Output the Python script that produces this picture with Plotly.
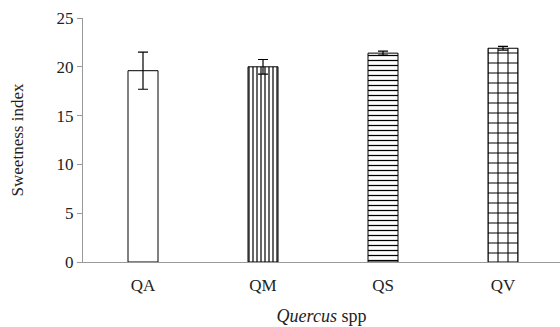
import plotly.graph_objects as go

categories = ["QA", "QM", "QS", "QV"]
values = [19.6, 20.0, 21.4, 21.9]
errors = [1.9, 0.75, 0.2, 0.2]
patterns = ["", "|", "-", "+"]
pattern_sizes = [6, 4, 5, 10]
pattern_solidity = [0.2, 0.3, 0.25, 0.2]

fig = go.Figure()
fig.add_trace(go.Bar(
    x=categories, y=values, width=0.25,
    marker=dict(
        color="white",
        line=dict(color="black", width=1),
        pattern=dict(shape=patterns, size=pattern_sizes, solidity=pattern_solidity,
                     fgcolor="black", bgcolor="white", fillmode="replace"),
    ),
    error_y=dict(type="data", array=errors, visible=True, color="black",
                 thickness=1.2, width=5),
))

font = "Liberation Serif"
fig.update_layout(
    width=560, height=327,
    margin=dict(l=83, r=0, t=18, b=65),
    plot_bgcolor="white", paper_bgcolor="white",
    showlegend=False,
    font=dict(family=font, size=17, color="#222"),
)
fig.update_xaxes(
    range=[-0.5, 3.475], showline=True, linecolor="#999", linewidth=1,
    ticks="outside", ticklen=8, tickcolor="rgba(0,0,0,0)", showgrid=False,
    tickfont=dict(size=17),
    title=dict(text="<i>Quercus</i> spp", font=dict(size=18), standoff=14),
)
fig.update_yaxes(
    range=[0, 25], dtick=5, showline=True, linecolor="#999", linewidth=1,
    ticks="outside", ticklen=5, tickcolor="#999", showgrid=False, zeroline=False,
    tickfont=dict(size=17),
    title=dict(text="Sweetness index", font=dict(size=17), standoff=28),
)
fig.write_html(
    "out.html",
    config={"displayModeBar": False},
    post_script="document.body.style.margin='0';document.body.style.overflow='hidden';",
)
